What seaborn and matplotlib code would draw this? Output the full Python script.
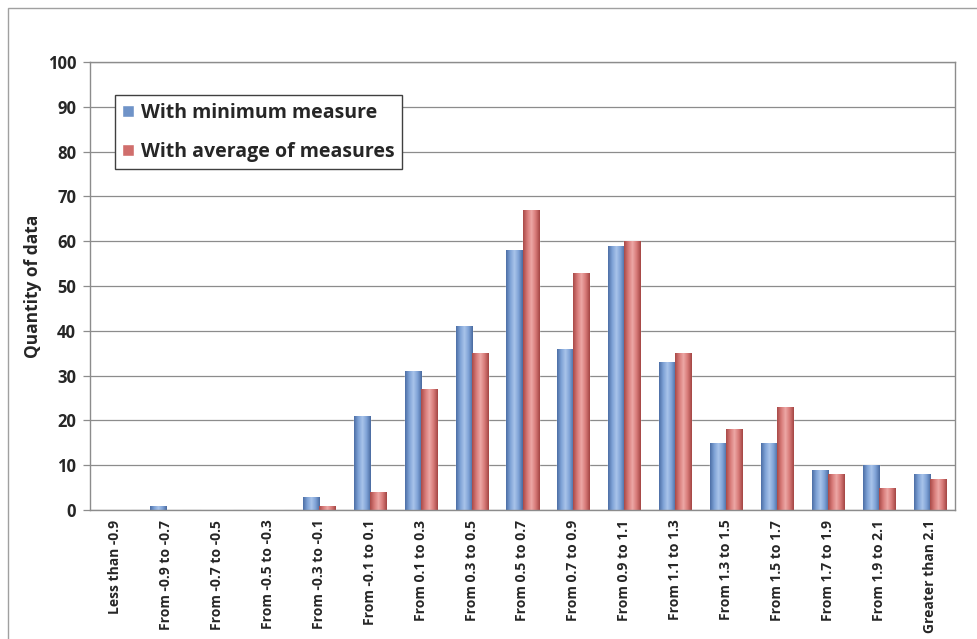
import numpy as np
import pandas as pd
import matplotlib
matplotlib.use("Agg")
import matplotlib.pyplot as plt
from matplotlib.colors import LinearSegmentedColormap
from matplotlib.patches import Rectangle
import seaborn as sns

categories = [
    "Less than -0.9", "From -0.9 to -0.7", "From -0.7 to -0.5", "From -0.5 to -0.3",
    "From -0.3 to -0.1", "From -0.1 to 0.1", "From 0.1 to 0.3", "From 0.3 to 0.5",
    "From 0.5 to 0.7", "From 0.7 to 0.9", "From 0.9 to 1.1", "From 1.1 to 1.3",
    "From 1.3 to 1.5", "From 1.5 to 1.7", "From 1.7 to 1.9", "From 1.9 to 2.1",
    "Greater than 2.1",
]
with_minimum = [0, 1, 0, 0, 3, 21, 31, 41, 58, 36, 59, 33, 15, 15, 9, 10, 8]
with_average = [0, 0, 0, 0, 1, 4, 27, 35, 67, 53, 60, 35, 18, 23, 8, 5, 7]
series_names = ["With minimum measure", "With average of measures"]
y_ticks = list(range(0, 101, 10))

df = pd.DataFrame({
    "category": categories * 2,
    "series": [series_names[0]] * len(categories) + [series_names[1]] * len(categories),
    "value": with_minimum + with_average,
})

sns.set_theme(style="white")
plt.rcParams["font.family"] = ["Open Sans", "DejaVu Sans"]

fig = plt.figure(figsize=(9.78, 6.39), dpi=100)
ax = fig.add_axes([90 / 978, 1 - 510 / 639, 865 / 978, 448 / 639])

palette = {series_names[0]: "#6F93C8", series_names[1]: "#D06E6C"}
sns.barplot(data=df, x="category", y="value", hue="series", order=categories,
            hue_order=series_names, palette=palette, width=0.63, gap=0.0,
            ax=ax, saturation=1.0, legend=True)

# cylinder-style shading across each bar
shades = {
    series_names[0]: LinearSegmentedColormap.from_list(
        "b", ["#4D6FA6", "#7EA2D6", "#A9C4EA", "#7EA2D6", "#4A6AA0"]),
    series_names[1]: LinearSegmentedColormap.from_list(
        "r", ["#A94A48", "#D77A78", "#EDA8A6", "#D77A78", "#A44644"]),
}
grad = np.linspace(0, 1, 64).reshape(1, -1)
n = len(categories)
bars = [p for p in ax.patches if isinstance(p, Rectangle) and p.get_width() < 1]
for i, p in enumerate(bars[:2 * n]):
    name = series_names[i // n]
    x0, y0 = p.get_x(), p.get_y()
    w, h = p.get_width(), p.get_height()
    if h <= 0:
        continue
    im = ax.imshow(grad, cmap=shades[name], aspect="auto",
                   extent=(x0, x0 + w, y0, y0 + h), zorder=p.get_zorder() + 0.1,
                   origin="lower")
    im.set_clip_path(p)

ax.set_xlim(-0.5, n - 0.5)
ax.set_ylim(0, 100)
ax.set_yticks(y_ticks)
ax.yaxis.grid(True, color="#8C8C8C", linewidth=0.9)
ax.set_axisbelow(True)
for s in ax.spines.values():
    s.set_visible(True)
    s.set_color("#8C8C8C")
    s.set_linewidth(1.0)

ax.tick_params(axis="y", length=5, width=0.9, color="#8C8C8C", left=True,
               labelsize=12, pad=5)
ax.tick_params(axis="x", length=0, labelsize=10, pad=7)
ax.set_xticks(range(n))
ax.set_xticklabels(categories, rotation=90)
for lbl in ax.get_yticklabels() + ax.get_xticklabels():
    lbl.set_fontweight("bold")
ax.set_xlabel("")
ax.set_ylabel("Quantity of data", fontsize=12.5, fontweight="bold", labelpad=4)

leg = ax.legend(loc="upper left", bbox_to_anchor=(0.029, 0.926), frameon=True,
                fancybox=False, edgecolor="#404040", framealpha=1,
                prop={"weight": "bold", "size": 14}, handlelength=0.6,
                handleheight=0.6, handletextpad=0.35, labelspacing=1.0,
                borderpad=0.38, borderaxespad=0)
leg.get_frame().set_linewidth(1.0)

# outer chart frame
fig.patches.append(Rectangle((8 / 978, -0.01), 1.0, 1 - 8 / 639 + 0.01,
                             transform=fig.transFigure, fill=False,
                             edgecolor="#A0A0A0", linewidth=1.0))

fig.savefig("out.png", dpi=100, facecolor="white")
